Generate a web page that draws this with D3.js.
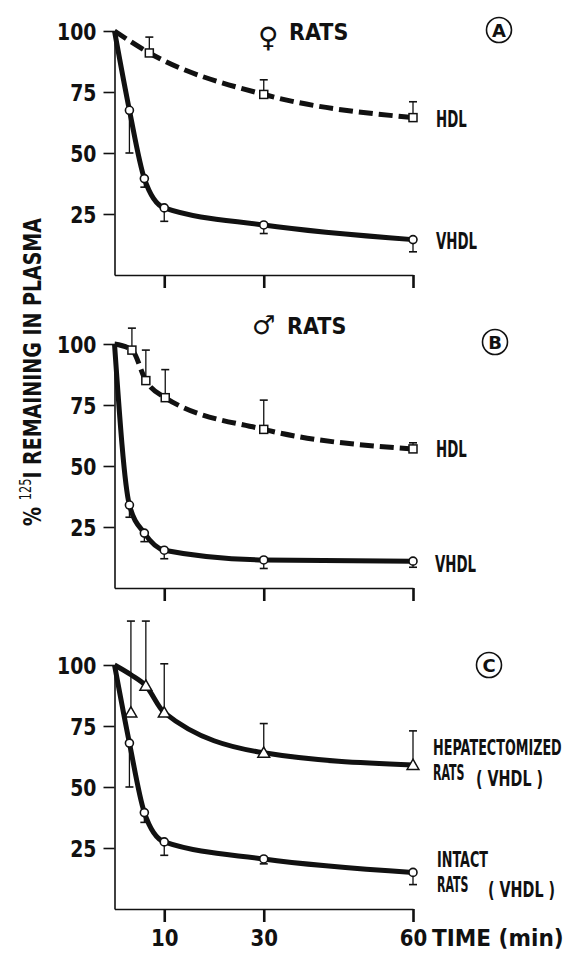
<!DOCTYPE html>
<html>
<head>
<meta charset="utf-8">
<script src="https://cdnjs.cloudflare.com/ajax/libs/d3/7.8.5/d3.min.js"></script>
<style>
  body { margin: 0; background: #fff; }
  svg { display: block; }
  text { font-family: "DejaVu Sans", "Liberation Sans", sans-serif; font-weight: bold; fill: #111; }
</style>
</head>
<body>
<div id="chart"></div>
<script>
// ticks
var xTicks = [10, 30, 60];
var yTicks = [25, 50, 75, 100];

// A: female rats
var aHdlTime = [0, 7, 30, 60];
var aHdlPct  = [100, 91, 74, 64.5];
var aHdlErr  = [null, 97.5, 80, 71];
var aVhdlTime = [0, 3, 6, 10, 30, 60];
var aVhdlPct  = [100, 67.5, 39.5, 27.5, 20.5, 14.5];
var aVhdlErr  = [null, 50, 36, 22, 17, 9.5];

// B: male rats
var bHdlTime = [0, 3.5, 6.3, 10.2, 30, 60];
var bHdlPct  = [100, 97.5, 85, 78, 65, 57];
var bHdlErr  = [null, 106.5, 97.5, 89.5, 77, 59.5];
var bVhdlTime = [0, 3, 6, 10, 30, 60];
var bVhdlPct  = [100, 34, 22.5, 15.5, 11.5, 11];
var bVhdlErr  = [null, 29, 19, 12, 8, 8.5];

// C: hepatectomized vs intact (VHDL)
var cHepTime = [0, 3.3, 6.3, 10, 30, 60];
var cHepPct  = [100, 80.5, 91.5, 80.5, 64, 59];
var cHepErr  = [null, 118, 118, 100.5, 76, 73];
var cHepFit  = [100, 96, 91.5, 80.5, 64, 59];   // drawn curve skips the 3 min point
var cIntTime = [0, 3, 6, 10, 30, 60];
var cIntPct  = [100, 68, 39.5, 27.5, 20.5, 15];
var cIntErr  = [null, 50, 35.5, 22, 18.5, 10];

var W = 571, H = 953;
var svg = d3.select('#chart').append('svg').attr('width', W).attr('height', H);
var x = d3.scaleLinear().domain([0, 60]).range([114.5, 413]);

// condensed bold lettering like the stencil type of the original
function label(g, px, py, s, size, sx, anchor) {
  return g.append('text')
    .attr('transform', 'translate(' + px + ',' + py + ') scale(' + sx + ',1)')
    .attr('font-size', size)
    .attr('text-anchor', anchor || 'start')
    .text(s);
}

function circled(g, cx, cy, letter) {
  g.append('circle').attr('cx', cx).attr('cy', cy).attr('r', 12.5)
    .style('fill', 'none').style('stroke', '#111').style('stroke-width', 1.6);
  label(g, cx, cy + 6.5, letter, 18, 1, 'middle');
}

function drawSeries(g, y, time, pct, err, fit, marker, dashed) {
  var pts = time.map(function(t, i) { return {t: t, v: pct[i], e: err[i], f: fit ? fit[i] : pct[i]}; });
  // error bars
  pts.forEach(function(p) {
    if (p.e == null) return;
    var px = x(p.t);
    g.append('line').attr('x1', px).attr('x2', px).attr('y1', y(p.v)).attr('y2', y(p.e))
      .style('stroke', '#111').style('stroke-width', 1.3);
    g.append('line').attr('x1', px - 4).attr('x2', px + 4).attr('y1', y(p.e)).attr('y2', y(p.e))
      .style('stroke', '#111').style('stroke-width', 1.6);
  });
  var line = d3.line().x(function(p) { return x(p.t); }).y(function(p) { return y(p.f); })
    .curve(d3.curveMonotoneX);
  g.append('path').datum(pts).attr('d', line)
    .style('fill', 'none').style('stroke', '#111').style('stroke-width', 5)
    .style('stroke-dasharray', dashed ? '14 6' : null);
  pts.slice(1).forEach(function(p) {
    var px = x(p.t), py = y(p.v);
    if (marker === 'square') {
      g.append('rect').attr('x', px - 4).attr('y', py - 4).attr('width', 8).attr('height', 8)
        .style('fill', '#fff').style('stroke', '#111').style('stroke-width', 1.5);
    } else if (marker === 'triangle') {
      g.append('path').attr('d', d3.symbol(d3.symbolTriangle, 60)())
        .attr('transform', 'translate(' + px + ',' + (py + 1) + ')')
        .style('fill', '#fff').style('stroke', '#111').style('stroke-width', 1.5);
    } else {
      g.append('circle').attr('cx', px).attr('cy', py).attr('r', 4)
        .style('fill', '#fff').style('stroke', '#111').style('stroke-width', 1.6);
    }
  });
}

function panel(top, bottom, showX) {
  var y = d3.scaleLinear().domain([0, 100]).range([bottom, top]);
  var g = svg.append('g');
  var ya = g.append('g').attr('transform', 'translate(' + x(0) + ',0)')
    .call(d3.axisLeft(y).tickValues(yTicks).tickSize(11).tickSizeOuter(0).tickFormat(d3.format('d')));
  ya.select('.domain').style('stroke', '#111').style('stroke-width', 1.6);
  ya.selectAll('.tick line').style('stroke', '#111').style('stroke-width', 1.6);
  ya.selectAll('.tick text').attr('x', -22).attr('dy', '0.37em')
    .attr('transform', 'scale(0.82,1)').attr('font-size', 23).style('fill', '#111');

  var xa = g.append('g').attr('transform', 'translate(0,' + y(0) + ')')
    .call(d3.axisBottom(x).tickValues(xTicks).tickSize(13).tickSizeOuter(0).tickPadding(8)
      .tickFormat(showX ? d3.format('d') : ''));
  xa.select('.domain').style('stroke', '#111').style('stroke-width', 1.6);
  xa.selectAll('.tick line').style('stroke', '#111').style('stroke-width', 2.6);
  xa.selectAll('.tick text').attr('font-size', 23).attr('transform', 'scale(0.86,1)').style('fill', '#111');
  g.selectAll('.tick text').style('font-family', '"DejaVu Sans", sans-serif').style('font-weight', 'bold');
  return {g: g, y: y};
}

// panel A
var pa = panel(31, 275, false);
drawSeries(pa.g, pa.y, aHdlTime, aHdlPct, aHdlErr, null, 'square', true);
drawSeries(pa.g, pa.y, aVhdlTime, aVhdlPct, aVhdlErr, null, 'circle', false);
label(pa.g, 258, 47, '\u2640', 28, 1);
label(pa.g, 289, 40, 'RATS', 23, 0.9);
circled(pa.g, 499, 30, 'A');
label(pa.g, 436, 127, 'HDL', 23, 0.58);
label(pa.g, 436, 249, 'VHDL', 23, 0.58);

// panel B
var pb = panel(344, 588, false);
drawSeries(pb.g, pb.y, bHdlTime, bHdlPct, bHdlErr, null, 'square', true);
drawSeries(pb.g, pb.y, bVhdlTime, bVhdlPct, bVhdlErr, null, 'circle', false);
label(pb.g, 252, 334, '\u2642', 26, 1);
label(pb.g, 287, 334, 'RATS', 23, 0.9);
circled(pb.g, 495, 342, 'B');
label(pb.g, 436, 457, 'HDL', 23, 0.58);
label(pb.g, 435, 572, 'VHDL', 23, 0.58);

// panel C
var pc = panel(665, 909, true);
drawSeries(pc.g, pc.y, cHepTime, cHepPct, cHepErr, cHepFit, 'triangle', false);
drawSeries(pc.g, pc.y, cIntTime, cIntPct, cIntErr, null, 'circle', false);
circled(pc.g, 489, 665, 'C');
label(pc.g, 433, 755, 'HEPATECTOMIZED', 22, 0.58);
label(pc.g, 433, 780, 'RATS', 22, 0.5);
label(pc.g, 476, 786, '( VHDL )', 22, 0.65);
label(pc.g, 437, 867, 'INTACT', 22, 0.58);
label(pc.g, 437, 892, 'RATS', 22, 0.5);
label(pc.g, 488, 897, '( VHDL )', 22, 0.65);
label(pc.g, 432, 946, 'TIME (min)', 23, 0.94);

// y axis title
var yt = svg.append('text')
  .attr('transform', 'translate(41,372) rotate(-90) scale(0.76,1)')
  .attr('font-size', 25).attr('text-anchor', 'middle');
yt.append('tspan').text('% ');
yt.append('tspan').attr('font-size', 15).attr('font-weight', 'normal').attr('dy', -10).text('125');
yt.append('tspan').attr('dy', 10).text('I  REMAINING IN PLASMA');
</script>
</body>
</html>
